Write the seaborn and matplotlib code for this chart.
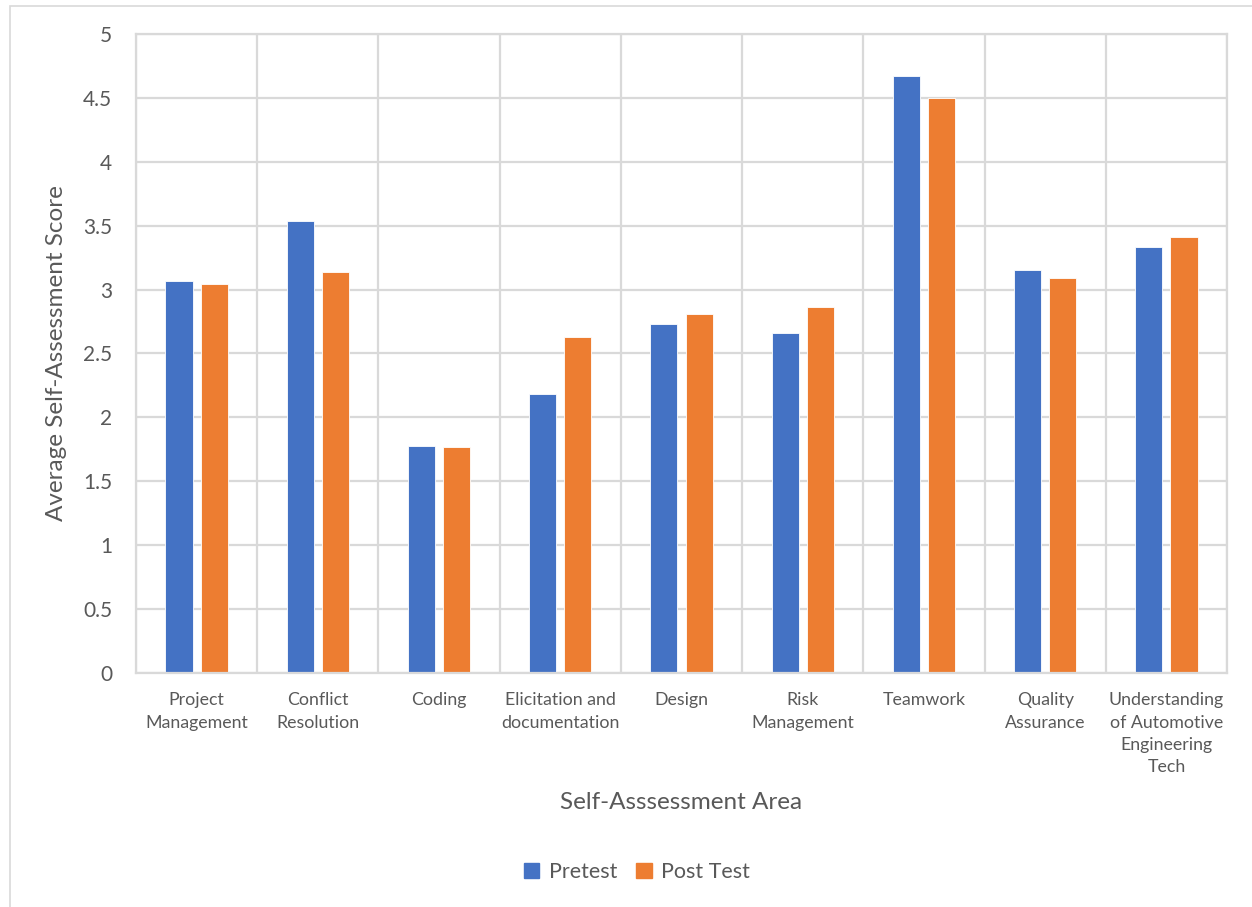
import matplotlib
matplotlib.use("Agg")
import matplotlib.pyplot as plt
from matplotlib.patches import Rectangle
import seaborn as sns
import pandas as pd
import numpy as np

# Self-assessment areas and average scores
areas = [
    "Project\nManagement",
    "Conflict\nResolution",
    "Coding",
    "Elicitation and\ndocumentation",
    "Design",
    "Risk\nManagement",
    "Teamwork",
    "Quality\nAssurance",
    "Understanding\nof Automotive\nEngineering\nTech",
]
pretest = [3.07, 3.54, 1.78, 2.18, 2.73, 2.66, 4.67, 3.15, 3.33]
post_test = [3.04, 3.14, 1.77, 2.63, 2.81, 2.86, 4.50, 3.09, 3.41]
series_names = ["Pretest", "Post Test"]
y_ticks = [0, 0.5, 1, 1.5, 2, 2.5, 3, 3.5, 4, 4.5, 5]

df = pd.DataFrame({
    "Area": areas * 2,
    "Score": pretest + post_test,
    "Series": [series_names[0]] * len(areas) + [series_names[1]] * len(areas),
})

sns.set_theme(style="white")
plt.rcParams["font.family"] = ["Lato", "DejaVu Sans"]

text_color = "#595959"
grid_color = "#D9D9D9"
palette = {"Pretest": "#4472C4", "Post Test": "#ED7D31"}

fig = plt.figure(figsize=(12.52, 9.07), dpi=100)
ax = fig.add_axes([136 / 1252, 1 - 673 / 907, (1227 - 136) / 1252, (673 - 34) / 907])

sns.barplot(
    data=df, x="Area", y="Score", hue="Series", hue_order=series_names,
    palette=palette, width=0.58, gap=0.23, ax=ax, legend=False,
    edgecolor="white", linewidth=0.6, saturation=1,
)

ax.set_xlim(-0.5, len(areas) - 0.5)
ax.set_ylim(0, 5)
ax.set_yticks(y_ticks)
ax.set_yticklabels([f"{t:g}" for t in y_ticks])
ax.set_xticks(np.arange(-0.5, len(areas), 1.0), minor=True)

ax.grid(True, axis="y", which="major", color=grid_color, linewidth=1.6)
ax.grid(True, axis="x", which="minor", color=grid_color, linewidth=1.6)
ax.grid(False, axis="x", which="major")
ax.set_axisbelow(True)
for s in ax.spines.values():
    s.set_color(grid_color)
    s.set_linewidth(1.6)

ax.tick_params(axis="x", which="both", length=0, pad=14, labelsize=12.8, colors=text_color)
ax.tick_params(axis="y", length=0, pad=17, labelsize=15, colors=text_color)
for lbl in ax.get_xticklabels():
    lbl.set_linespacing(1.48)

ax.set_xlabel("Self-Asssessment Area", fontsize=17.5, color=text_color, labelpad=12)
ax.set_ylabel("Average Self-Assessment Score", fontsize=17.5, color=text_color, labelpad=12)

handles = [Rectangle((0, 0), 1, 1, color=palette[n]) for n in series_names]
fig.legend(
    handles, series_names, loc="center", bbox_to_anchor=(637 / 1252, 1 - 872 / 907),
    ncol=2, frameon=False, fontsize=15.5, labelcolor=text_color,
    handlelength=0.7, handleheight=0.7, handletextpad=0.45, columnspacing=0.9,
)

# light chart-area frame
fig.patches.append(Rectangle((10 / 1252, -0.01), 1.0, 1 - 6 / 907 + 0.01,
                             transform=fig.transFigure, fill=False,
                             edgecolor=grid_color, linewidth=1.2))

fig.savefig("out.png", dpi=100, facecolor="white")
